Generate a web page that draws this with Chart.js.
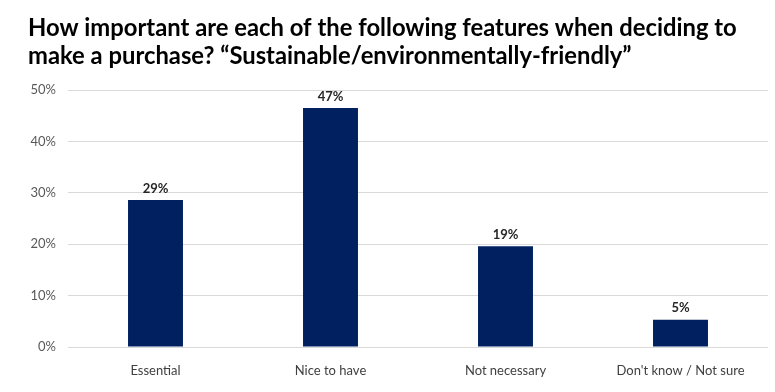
<!DOCTYPE html>
<html>
<head>
<meta charset="utf-8">
<script src="https://cdn.jsdelivr.net/npm/chart.js@4/dist/chart.umd.min.js"></script>
<style>
html,body{margin:0;padding:0;background:#fff;}
#wrap{width:775px;height:392px;position:relative;}
</style>
</head>
<body>
<div id="wrap"><canvas id="c" width="775" height="392"></canvas></div>
<script>
const titleLines = ["How important are each of the following features when deciding to", "make a purchase? \u201cSustainable/environmentally-friendly\u201d"];
const categories = ["Essential", "Nice to have", "Not necessary", "Don't know / Not sure"];
const values = [0.286, 0.465, 0.196, 0.053];
const valueLabels = ["29%", "47%", "19%", "5%"];
const yTicks = [0, 0.1, 0.2, 0.3, 0.4, 0.5];

const FONT = "Lato, 'Open Sans', sans-serif";

const labelPlugin = {
  id: 'valueLabels',
  afterDatasetsDraw(chart) {
    const ctx = chart.ctx;
    const meta = chart.getDatasetMeta(0);
    ctx.save();
    ctx.font = "bold 13px " + FONT;
    ctx.fillStyle = "#262626";
    ctx.textAlign = "center";
    ctx.textBaseline = "bottom";
    meta.data.forEach((bar, i) => {
      ctx.fillText(valueLabels[i], bar.x, bar.y - 5);
    });
    ctx.restore();
  }
};

new Chart(document.getElementById('c'), {
  type: 'bar',
  data: {
    labels: categories,
    datasets: [{
      data: values,
      backgroundColor: '#002060',
      borderWidth: 0,
      barPercentage: 0.314,
      categoryPercentage: 1.0
    }]
  },
  options: {
    responsive: false,
    animation: false,
    devicePixelRatio: 1,
    layout: { padding: { left: 28, right: 7, top: 0, bottom: 0 } },
    plugins: {
      legend: { display: false },
      tooltip: { enabled: false },
      title: {
        display: true,
        text: titleLines,
        align: 'start',
        color: '#000000',
        font: { family: FONT, size: 23.8, weight: 'bold', lineHeight: 1.15 },
        padding: { top: 15, bottom: 20.3 }
      }
    },
    scales: {
      x: {
        grid: { display: false },
        border: { display: false },
        ticks: { color: '#404040', font: { family: FONT, size: 13 }, padding: 8, maxRotation: 0 },
        afterFit(s) { s.height = 45; }
      },
      y: {
        min: 0, max: 0.5,
        afterBuildTicks(s) { s.ticks = yTicks.map(v => ({ value: v })); },
        grid: { color: '#d9d9d9', drawTicks: false },
        border: { display: false },
        ticks: {
          color: '#595959',
          font: { family: FONT, size: 13 },
          padding: 12,
          callback: v => Math.round(v * 100) + '%'
        },
        afterFit(s) { s.width = 40; }
      }
    }
  },
  plugins: [labelPlugin]
});
</script>
</body>
</html>
